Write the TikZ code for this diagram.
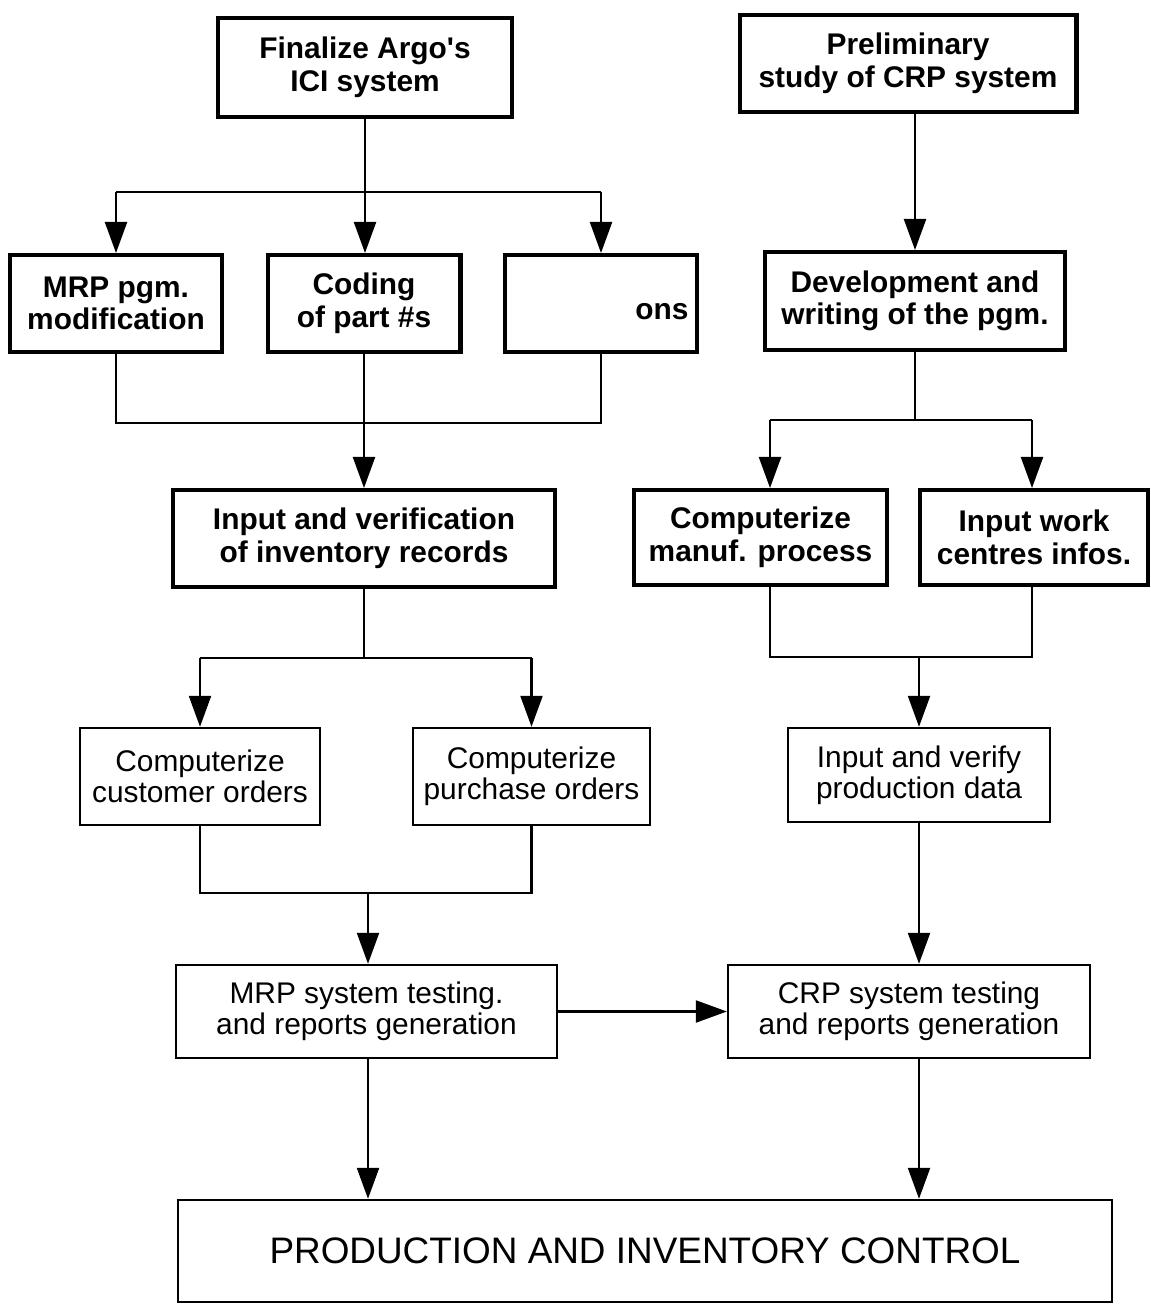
\documentclass[tikz,border=0pt]{standalone}
\usepackage{fontspec}
\setmainfont{Liberation Sans}
\usetikzlibrary{arrows.meta,calc}
\begin{document}
\begin{tikzpicture}[x=0.02cm,y=-0.02cm,
  thickbox/.style={draw,line width=2.3pt,font=\fontsize{17}{18.5}\selectfont\bfseries,align=center,inner sep=0pt},
  thinbox/.style={draw,line width=1.4pt,font=\fontsize{17}{17.5}\selectfont,align=center,inner sep=0pt},
  link/.style={line width=1.3pt},
  arr/.style={line width=1.3pt,-{Triangle[width=0.44cm,length=0.62cm]}},
]
\useasboundingbox (0,0) rectangle (1151,1310);

% left column
\node[thickbox,minimum width=5.88cm,minimum height=1.98cm] (fin) at (365,67.5) {Finalize Argo\textquotesingle s\\ICI system};
\node[thickbox,minimum width=4.24cm,minimum height=1.94cm] (mrpmod) at (116,303.5) {MRP pgm.\\modification};
\node[thickbox,minimum width=3.86cm,minimum height=1.94cm] (coding) at (364,303.5) {Coding\\of part \#s};
\node[thickbox,minimum width=3.84cm,minimum height=1.94cm,text width=3.5cm,align=right] (third) at (601,303.5) {\mbox{}\\ons};
\node[thickbox,minimum width=7.66cm,minimum height=1.94cm] (inv) at (364,538.5) {Input and verification\\of inventory records};
\node[thinbox,minimum width=4.8cm,minimum height=1.94cm] (cust) at (200,776.5) {Computerize\\customer orders};
\node[thinbox,minimum width=4.74cm,minimum height=1.94cm] (purch) at (531.5,776.5) {Computerize\\purchase orders};
\node[thinbox,minimum width=7.62cm,minimum height=1.86cm] (mrptest) at (366.5,1011.5) {MRP system testing.\\and reports generation};

% right column
\node[thickbox,minimum width=6.74cm,minimum height=1.94cm] (pre) at (908,63.5) {Preliminary\\study of CRP system};
\node[thickbox,minimum width=6.0cm,minimum height=1.96cm] (dev) at (915,301) {Development and\\writing of the pgm.};
\node[thickbox,minimum width=5.06cm,minimum height=1.9cm] (manuf) at (760.5,537.5) {Computerize\\manuf. process};
\node[thickbox,minimum width=4.56cm,minimum height=1.9cm] (work) at (1034,537.5) {Input work\\centres infos.};
\node[thinbox,minimum width=5.24cm,minimum height=1.88cm] (prod) at (919,775) {Input and verify\\production data};
\node[thinbox,minimum width=7.24cm,minimum height=1.86cm] (crptest) at (909,1011.5) {CRP system testing\\and reports generation};

% bottom
\node[thinbox,minimum width=18.68cm,minimum height=2.04cm,font=\fontsize{21}{22}\selectfont] (pic) at (645,1251) {PRODUCTION AND INVENTORY CONTROL};

% helper coordinates
\coordinate (b1) at (365,192);
\coordinate (b2) at (365,423);
\coordinate (b3) at (365,658);
\coordinate (b4) at (368,893);
\coordinate (m5) at (770,420);
\coordinate (w5) at (1032,420);
\coordinate (b6) at (918,657);

% left connectors
\draw[link] (mrpmod.north |- b1) -- (third.north |- b1);
\draw[arr] (fin.south) -- (fin.south |- coding.north);
\draw[arr] (mrpmod.north |- b1) -- (mrpmod.north);
\draw[arr] (third.north |- b1) -- (third.north);
\draw[link] (mrpmod.south) -- (mrpmod.south |- b2) -- (third.south |- b2) -- (third.south);
\draw[arr] (coding.south) -- (coding.south |- inv.north);
\draw[link] (inv.south) -- (inv.south |- b3);
\draw[link] (cust.north |- b3) -- (purch.north |- b3);
\draw[arr] (cust.north |- b3) -- (cust.north);
\draw[arr] (purch.north |- b3) -- (purch.north);
\draw[link] (cust.south) -- (cust.south |- b4) -- (purch.south |- b4) -- (purch.south);
\draw[arr] (b4) -- (b4 |- mrptest.north);
\draw[arr] (mrptest.east) -- (crptest.west);
\draw[arr] (mrptest.south -| b4) -- (b4 |- pic.north);

% right connectors
\draw[arr] (pre.south -| dev.north) -- (dev.north);
\draw[link] (dev.south) -- (dev.south |- m5);
\draw[link] (m5) -- (w5);
\draw[arr] (m5) -- (m5 |- manuf.north);
\draw[arr] (w5) -- (w5 |- work.north);
\draw[link] (m5 |- manuf.south) -- (m5 |- b6) -- (w5 |- b6) -- (w5 |- work.south);
\draw[arr] (prod.north |- b6) -- (prod.north);
\draw[arr] (prod.south) -- (prod.south |- crptest.north);
\draw[arr] (prod.south |- crptest.south) -- (prod.south |- pic.north);
\end{tikzpicture}
\end{document}
